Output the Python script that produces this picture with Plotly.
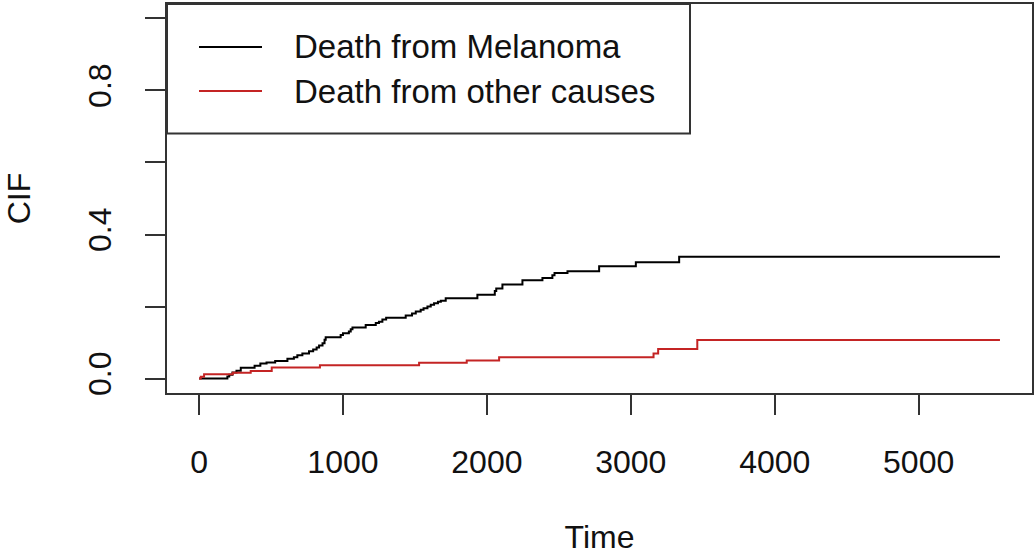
import plotly.graph_objects as go

# Cumulative incidence step functions
melanoma_time = [0, 197, 210, 232, 260, 290, 386, 426, 469, 529, 614, 659, 683, 718, 764,
                 793, 817, 834, 858, 872, 880, 984, 1000, 1041, 1054, 1066, 1158, 1228,
                 1250, 1274, 1300, 1436, 1480, 1506, 1540, 1560, 1587, 1610, 1633, 1660,
                 1680, 1714, 1934, 2055, 2065, 2108, 2247, 2386, 2455, 2470, 2560, 2780,
                 3035, 3336, 5565]
melanoma_cif = [0.0, 0.006, 0.011, 0.017, 0.022, 0.030, 0.036, 0.042, 0.045, 0.049, 0.055,
                0.059, 0.065, 0.070, 0.076, 0.081, 0.086, 0.092, 0.098, 0.108, 0.115,
                0.121, 0.126, 0.131, 0.137, 0.142, 0.149, 0.154, 0.158, 0.164, 0.169,
                0.175, 0.181, 0.186, 0.191, 0.195, 0.200, 0.205, 0.209, 0.213, 0.216,
                0.223, 0.233, 0.243, 0.250, 0.261, 0.273, 0.279, 0.287, 0.293, 0.298,
                0.312, 0.323, 0.338, 0.338]

other_time = [0, 12, 35, 235, 359, 505, 840, 1529, 1860, 2085, 3158, 3190, 3462, 5565]
other_cif = [0.0, 0.005, 0.012, 0.016, 0.021, 0.031, 0.037, 0.044, 0.050, 0.059, 0.070,
             0.082, 0.107, 0.107]

series_names = ["Death from Melanoma", "Death from other causes"]
series_colors = ["#000000", "#c42424"]

x_ticks = [0, 1000, 2000, 3000, 4000, 5000]
y_ticks = [0.0, 0.2, 0.4, 0.6, 0.8, 1.0]
y_ticktext = ["0.0", "", "0.4", "", "0.8", ""]

FONT = "Liberation Sans, Arial, sans-serif"

fig = go.Figure()
fig.add_trace(go.Scatter(x=melanoma_time, y=melanoma_cif, mode="lines",
                         line=dict(shape="hv", color=series_colors[0], width=2),
                         name=series_names[0], showlegend=False))
fig.add_trace(go.Scatter(x=other_time, y=other_cif, mode="lines",
                         line=dict(shape="hv", color=series_colors[1], width=2),
                         name=series_names[1], showlegend=False))

# plot area in pixels: x 167..1032, y 4..393
L, R, T, B = 167, 1032, 4, 393
W, H = R - L, B - T

def px(x):
    return (x - L) / W

def py(y):
    return (B - y) / H

# legend drawn as box + line samples + text
shapes = [dict(type="rect", xref="paper", yref="paper", x0=0, x1=px(690), y0=py(133.5), y1=1,
               line=dict(color="#333333", width=2), fillcolor="white", layer="above")]
annotations = []
rows = [47, 91]
for name, col, ry in zip(series_names, series_colors, rows):
    shapes.append(dict(type="line", xref="paper", yref="paper", x0=px(199), x1=px(262),
                       y0=py(ry), y1=py(ry), line=dict(color=col, width=2), layer="above"))
    annotations.append(dict(xref="paper", yref="paper", x=px(292), y=py(ry), text=name,
                            showarrow=False, xanchor="left", yanchor="middle",
                            font=dict(family=FONT, size=33, color="#111111")))

fig.update_layout(
    width=1034, height=555,
    margin=dict(l=L, r=1034 - R, t=T, b=555 - B),
    paper_bgcolor="white", plot_bgcolor="white",
    font=dict(family=FONT, size=32, color="#111111"),
    shapes=shapes, annotations=annotations,
    xaxis=dict(range=[-222.6, 5787.6], tickvals=x_ticks, ticks="outside", ticklen=20,
               tickwidth=2, tickcolor="#333333", showline=True, linecolor="#333333",
               linewidth=2, mirror=True, showgrid=False, zeroline=False, automargin=False,
               tickfont=dict(size=32), ticklabelstandoff=20,
               title=dict(text="Time", font=dict(size=32), standoff=53)),
    yaxis=dict(range=[-0.04, 1.04], tickvals=y_ticks, ticktext=y_ticktext, ticks="outside",
               ticklen=20, tickwidth=2, tickcolor="#333333", showline=True,
               linecolor="#333333", linewidth=2, mirror=True, showgrid=False,
               zeroline=False, tickangle=-90, tickfont=dict(size=32), ticklabelstandoff=21,
               automargin=False,
               title=dict(text="CIF", font=dict(size=32), standoff=42)),
)

post = ("document.body.style.margin='0';document.body.style.padding='0';"
        "Plotly.relayout('{plot_id}', {width:1034, height:555});")
fig.write_html("out.html", post_script=post,
               config={"responsive": False, "displayModeBar": False})
